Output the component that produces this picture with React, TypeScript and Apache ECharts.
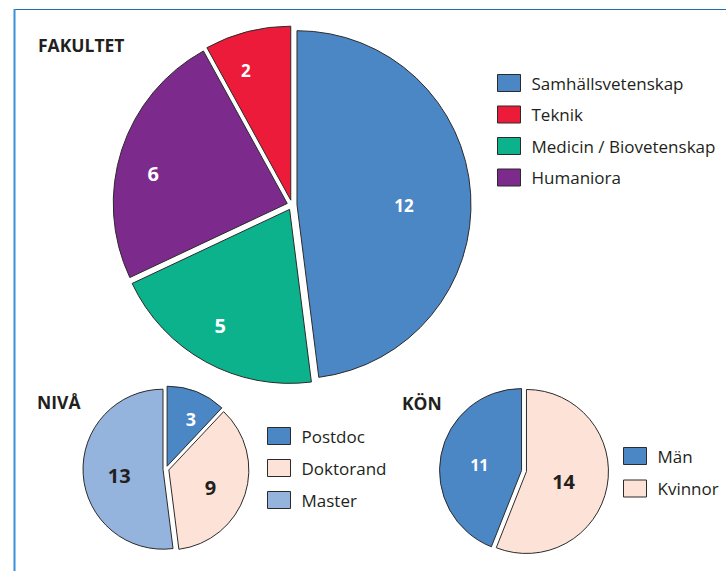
import React, { useEffect, useRef } from "react";
import * as echarts from "echarts";

// ---- data ----
const fakultetNames = ["Samhällsvetenskap", "Medicin / Biovetenskap", "Humaniora", "Teknik"];
const fakultetValues = [12, 5, 6, 2];
const fakultetLegend = ["Samhällsvetenskap", "Teknik", "Medicin / Biovetenskap", "Humaniora"];

const nivaNames = ["Postdoc", "Doktorand", "Master"];
const nivaValues = [3, 9, 13];

const konNames = ["Kvinnor", "Män"];
const konValues = [14, 11];
const konLegend = ["Män", "Kvinnor"];

const titles = ["FAKULTET", "NIVÅ", "KÖN"];

// ---- styles ----
const FONT = "Open Sans";
const DARK = "#231f20";
const BORDER = "#2b2b2b";

const fakultetColors = ["#4b86c5", "#0bb28c", "#7c2a8b", "#ed1b3a"];
const fakultetLabelColors = ["#fff", "#fff", "#fff", "#fff"];
const fakultetLabelSizes = [17, 20, 20, 17];
const fakultetLabelPolar = [[90, 0.644], [210.8, 0.807], [282.6, 0.817], [341.1, 0.82]];

const nivaColors = ["#4b86c5", "#fde3d7", "#94b3dd"];
const nivaLabelColors = ["#fff", DARK, DARK];
const nivaLabelSizes = [18, 20, 20];
const nivaLabelPolar = [[26.3, 0.7], [112.3, 0.6], [261.9, 0.59]];

const konColors = ["#fde3d7", "#4b86c5"];
const konLabelColors = [DARK, "#fff"];
const konLabelSizes = [20, 16];
const konLabelPolar = [[105.2, 0.5], [277.6, 0.55]];

type PieCfg = {
  names: string[]; values: number[]; colors: string[]; labelColors: string[]; labelSizes: number[];
  polar: number[][]; cx: number; cy: number; r: number; offset: number;
};

const PIES: PieCfg[] = [
  { names: fakultetNames, values: fakultetValues, colors: fakultetColors, labelColors: fakultetLabelColors,
    labelSizes: fakultetLabelSizes, polar: fakultetLabelPolar, cx: 292, cy: 205, r: 174, offset: 5 },
  { names: nivaNames, values: nivaValues, colors: nivaColors, labelColors: nivaLabelColors,
    labelSizes: nivaLabelSizes, polar: nivaLabelPolar, cx: 166, cy: 469, r: 80, offset: 3 },
  { names: konNames, values: konValues, colors: konColors, labelColors: konLabelColors,
    labelSizes: konLabelSizes, polar: konLabelPolar, cx: 524, cy: 471, r: 82, offset: 2.5 },
];

function makePie(p: PieCfg) {
  return {
    type: "pie",
    center: [p.cx, p.cy],
    radius: [0, p.r],
    startAngle: 90,
    clockwise: true,
    selectedMode: "multiple",
    selectedOffset: p.offset,
    silent: true,
    emphasis: { disabled: true },
    itemStyle: { borderColor: BORDER, borderWidth: 1 },
    label: { show: false },
    labelLine: { show: false },
    data: p.names.map((n, i) => ({
      name: n,
      value: p.values[i],
      selected: true,
      itemStyle: { color: p.colors[i] },
      select: { itemStyle: { color: p.colors[i], borderColor: BORDER, borderWidth: 1 } },
    })),
  };
}

function makeLabels(p: PieCfg) {
  return p.values.map((v, i) => {
    const [ang, f] = p.polar[i];
    const a = (ang * Math.PI) / 180;
    return {
      type: "text",
      z: 100,
      x: p.cx + f * p.r * Math.sin(a),
      y: p.cy - f * p.r * Math.cos(a),
      style: {
        text: String(v),
        fill: p.labelColors[i],
        fontFamily: FONT,
        fontWeight: "bold",
        fontSize: p.labelSizes[i],
        align: "center",
        verticalAlign: "middle",
      },
    };
  });
}

function makeLegend(data: string[], left: number, top: number, gap: number) {
  return {
    data,
    left,
    top,
    orient: "vertical",
    padding: 0,
    itemGap: gap,
    itemWidth: 23,
    itemHeight: 17,
    icon: "rect",
    selectedMode: false,
    itemStyle: { borderColor: BORDER, borderWidth: 1 },
    textStyle: { fontFamily: FONT, fontSize: 17, color: DARK, lineHeight: 17, padding: [0, 0, 0, 6] },
  };
}

export default function App() {
  const ref = useRef<HTMLDivElement>(null);
  useEffect(() => {
    if (!ref.current) return;
    const chart = echarts.init(ref.current, null, { renderer: "svg" });
    const titlePos = [[38, 36], [37, 393], [402, 394]];
    chart.setOption({
      animation: false,
      backgroundColor: "#fff",
      title: titles.map((t, i) => ({
        text: t,
        left: titlePos[i][0],
        top: titlePos[i][1],
        padding: 0,
        textStyle: { fontFamily: FONT, fontSize: 17.5, fontWeight: "bold", color: DARK },
      })),
      legend: [
        makeLegend(fakultetLegend, 497, 74, 13.5),
        makeLegend(nivaNames, 267, 427, 14),
        makeLegend(konLegend, 623, 447, 14.5),
      ],
      graphic: [
        { type: "line", shape: { x1: 14, y1: 9.5, x2: 726, y2: 9.5 }, style: { stroke: "#1f6db3", lineWidth: 1 } },
        { type: "line", shape: { x1: 14.5, y1: 9, x2: 14.5, y2: 571 }, style: { stroke: "#3a8fd9", lineWidth: 2 } },
        ...PIES.flatMap(makeLabels),
      ],
      series: PIES.map(makePie),
    });
    return () => chart.dispose();
  }, []);
  return (
    <div
      ref={ref}
      style={{ position: "fixed", left: 0, top: 0, width: 726, height: 571 }}
    />
  );
}
